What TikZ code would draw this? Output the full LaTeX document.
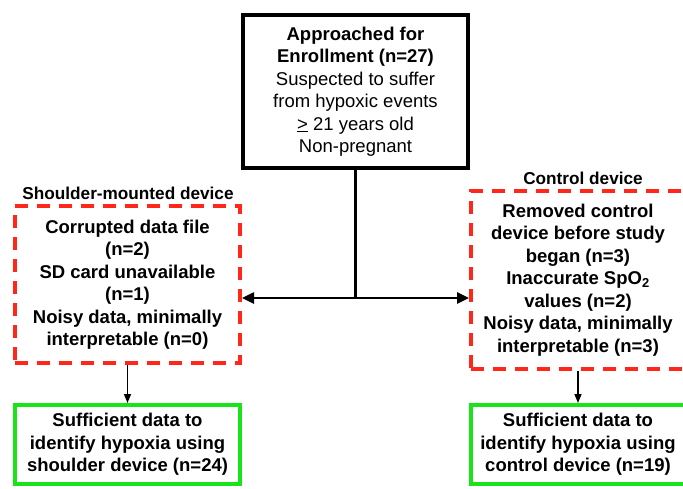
\documentclass[tikz,border=0pt]{standalone}
\usepackage{fontspec}
\setmainfont{Liberation Sans}
\usetikzlibrary{arrows.meta}
\definecolor{exclred}{RGB}{255,38,26}
\definecolor{okgreen}{RGB}{25,228,25}
\tikzset{
  bodytext/.style={font=\fontsize{18.5}{22.5}\selectfont, align=center, inner sep=0pt},
  startbox/.style={bodytext, draw=black, line width=3.5pt},
  exclbox/.style={bodytext, font=\bfseries\fontsize{18.5}{22.5}\selectfont, draw=exclred, line width=4pt, dash pattern=on 13pt off 9pt},
  keepbox/.style={bodytext, font=\bfseries\fontsize{18.5}{22.5}\selectfont, draw=okgreen, line width=4pt},
  grouplabel/.style={font=\bfseries\fontsize{17.2}{20}\selectfont, inner sep=0pt},
  mainline/.style={line width=2.5pt},
  splitarrow/.style={mainline, {Triangle[length=12pt,width=11pt]}-{Triangle[length=12pt,width=11pt]}},
  downarrow/.style={line width=1.5pt, -{Triangle[length=9pt,width=7pt]}}
}
\begin{document}
\begin{tikzpicture}[x=1pt,y=-1pt]
\useasboundingbox (0,0) rectangle (683,488);
\fill[white] (0,0) rectangle (683,488);

% enrollment box
\node[startbox, minimum width=225pt, minimum height=153pt] (start) at (355.5,91.5)
  {\textbf{Approached for}\\ \textbf{Enrollment (n=27)}\\ Suspected to suffer\\ from hypoxic events\\ \underline{>} 21 years old\\ Non-pregnant};

% exclusion boxes
\node[grouplabel] (lefttitle) at (128,193) {Shoulder-mounted device};
\node[exclbox, minimum width=225pt, minimum height=157pt] (leftexcl) at (127.5,284.5)
  {Corrupted data file\\ (n=2)\\ SD card unavailable\\ (n=1)\\ Noisy data, minimally\\ interpretable (n=0)};

\node[grouplabel] (righttitle) at (583,178) {Control device};
\node[exclbox, minimum width=214pt, minimum height=178pt] (rightexcl) at (578,280)
  {Removed control\\ device before study\\ began (n=3)\\ Inaccurate SpO\textsubscript{2}\\ values (n=2)\\ Noisy data, minimally\\ interpretable (n=3)};

% final boxes
\node[keepbox, minimum width=225pt, minimum height=79pt] (leftkeep) at (127.5,444.5)
  {Sufficient data to\\ identify hypoxia using\\ shoulder device (n=24)};
\node[keepbox, minimum width=214pt, minimum height=79pt] (rightkeep) at (578,444.5)
  {Sufficient data to\\ identify hypoxia using\\ control device (n=19)};

% connectors
\coordinate (split) at (start.south |- 0,298);
\draw[mainline] (start.south) -- (split);
\draw[splitarrow] (leftexcl.east |- split) -- (rightexcl.west |- split);
\draw[downarrow] (leftexcl.south) -- (leftkeep.north);
\draw[downarrow] (rightexcl.south) -- (rightkeep.north);
\end{tikzpicture}
\end{document}
